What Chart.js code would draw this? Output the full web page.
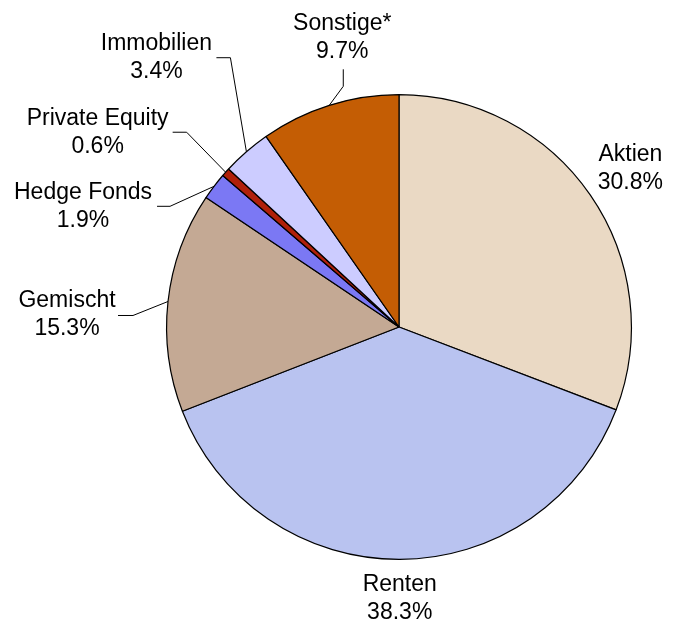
<!DOCTYPE html>
<html>
<head>
<meta charset="utf-8">
<script src="https://cdn.jsdelivr.net/npm/chart.js@4/dist/chart.umd.min.js"></script>
<style>
	html, body { margin: 0; padding: 0; background: #fff; }
	#chart_pie { display: block; }
</style>
</head>
<body>
<canvas id="chart_pie" width="674" height="624"></canvas>
<script>
// ----------------------------------------------------------------------
//  data
// ----------------------------------------------------------------------
var categories = ['Aktien', 'Renten', 'Gemischt', 'Hedge Fonds', 'Private Equity', 'Immobilien', 'Sonstige*'];
var shares = [30.8, 38.3, 15.3, 1.9, 0.6, 3.4, 9.7];
var sliceColors = ['#EAD9C4', '#B9C3F0', '#C4A994', '#7B78F4', '#B0200A', '#CCCCFF', '#C45D04'];

// label placement, relative to the outer edge of each slice at mid angle
// text: centre of first line, leader: points drawn before joining the edge
var callouts = [
	{ text: [40, -41], leader: null },
	{ text: [0, 25], leader: null },
	{ text: [-101, -1], leader: [[-50, 14], [-35, 14]] },
	{ text: [-131, 6], leader: [[-57, 20], [-44, 20]] },
	{ text: [-128, -54], leader: [[-53, -40], [-39, -40]] },
	{ text: [-90, -108], leader: [[-30, -94], [-16, -94]] },
	{ text: [13, -82], leader: [[14, -36], [14, -19]] }
];

// ----------------------------------------------------------------------
//  labels with leader lines
// ----------------------------------------------------------------------
var calloutPlugin = {
	id: 'callouts',
	afterDatasetsDraw: function(chart){
		var ctx = chart.ctx;
		var meta = chart.getDatasetMeta(0);
		ctx.save();
		ctx.font = '23px "Liberation Sans", Arial, sans-serif';
		ctx.fillStyle = '#000';
		ctx.textAlign = 'center';
		ctx.textBaseline = 'middle';
		ctx.strokeStyle = '#000';
		ctx.lineWidth = 1;
		meta.data.forEach(function(arc, i){
			var mid = (arc.startAngle + arc.endAngle) / 2;
			var ex = arc.x + Math.cos(mid) * arc.outerRadius;
			var ey = arc.y + Math.sin(mid) * arc.outerRadius;
			var c = callouts[i];
			if (c.leader) {
				ctx.beginPath();
				ctx.moveTo(ex + c.leader[0][0], ey + c.leader[0][1]);
				for (var k = 1; k < c.leader.length; k++) {
					ctx.lineTo(ex + c.leader[k][0], ey + c.leader[k][1]);
				}
				ctx.lineTo(ex, ey);
				ctx.stroke();
			}
			var tx = ex + c.text[0], ty = ey + c.text[1];
			ctx.fillText(categories[i], tx, ty);
			ctx.fillText(shares[i].toFixed(1) + '%', tx, ty + 28);
		});
		ctx.restore();
	}
};

// ----------------------------------------------------------------------
//  pie
// ----------------------------------------------------------------------
window.onload = function(){
	var ctx = document.getElementById('chart_pie').getContext('2d');
	var config = {
		type: 'pie',
		data: {
			labels: categories,
			datasets: [{
				data: shares,
				backgroundColor: sliceColors,
				borderColor: '#000',
				borderWidth: 1.2,
				borderAlign: 'center'
			}]
		},
		options: {
			responsive: false,
			animation: false,
			layout: { padding: { top: 94, bottom: 64, left: 166, right: 42 } },
			plugins: {
				legend: { display: false },
				tooltip: { enabled: false }
			}
		},
		plugins: [calloutPlugin]
	};
	var myChart = new Chart(ctx, config);
};
</script>
</body>
</html>
